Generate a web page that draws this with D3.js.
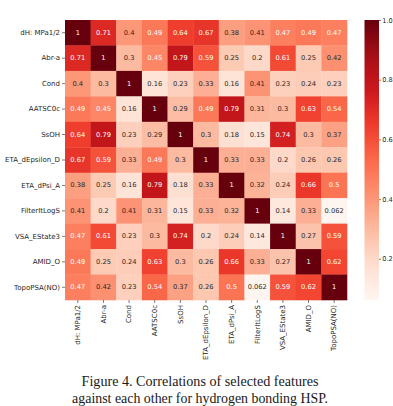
<!DOCTYPE html>
<html>
<head>
<meta charset="utf-8">
<script src="https://cdn.jsdelivr.net/npm/d3@7"></script>
<style>
  html, body { margin: 0; padding: 0; background: #fff; }
  svg { display: block; }
</style>
</head>
<body>
<svg id="chart" width="393" height="406"></svg>
<script>
// ---- data ----
const features = ["dH: MPa1/2", "Abr-a", "Cond", "AATSC0c", "SsOH", "ETA_dEpsilon_D",
                  "ETA_dPsi_A", "FilterItLogS", "VSA_EState3", "AMID_O", "TopoPSA(NO)"];
const row_dH      = [1, 0.71, 0.4, 0.49, 0.64, 0.67, 0.38, 0.41, 0.47, 0.49, 0.47];
const row_Abr     = [0.71, 1, 0.3, 0.45, 0.79, 0.59, 0.25, 0.2, 0.61, 0.25, 0.42];
const row_Cond    = [0.4, 0.3, 1, 0.16, 0.23, 0.33, 0.16, 0.41, 0.23, 0.24, 0.23];
const row_AATSC   = [0.49, 0.45, 0.16, 1, 0.29, 0.49, 0.79, 0.31, 0.3, 0.63, 0.54];
const row_SsOH    = [0.64, 0.79, 0.23, 0.29, 1, 0.3, 0.18, 0.15, 0.74, 0.3, 0.37];
const row_ETAdE   = [0.67, 0.59, 0.33, 0.49, 0.3, 1, 0.33, 0.33, 0.2, 0.26, 0.26];
const row_ETAdPsi = [0.38, 0.25, 0.16, 0.79, 0.18, 0.33, 1, 0.32, 0.24, 0.66, 0.5];
const row_Filter  = [0.41, 0.2, 0.41, 0.31, 0.15, 0.33, 0.32, 1, 0.14, 0.33, 0.062];
const row_VSA     = [0.47, 0.61, 0.23, 0.3, 0.74, 0.2, 0.24, 0.14, 1, 0.27, 0.59];
const row_AMID    = [0.49, 0.25, 0.24, 0.63, 0.3, 0.26, 0.66, 0.33, 0.27, 1, 0.62];
const row_Topo    = [0.47, 0.42, 0.23, 0.54, 0.37, 0.26, 0.5, 0.062, 0.59, 0.62, 1];
const matrix = [row_dH, row_Abr, row_Cond, row_AATSC, row_SsOH, row_ETAdE,
                row_ETAdPsi, row_Filter, row_VSA, row_AMID, row_Topo];
const colorbarTicks = [0.2, 0.4, 0.6, 0.8, 1.0];
const captionLines = ["Figure 4. Correlations of selected features",
                      "against each other for hydrogen bonding HSP."];

// ---- layout ----
const svg = d3.select("#chart");
const L = 65, R = 347, T = 20, B = 300;
const font = "DejaVu Sans, sans-serif";
const textCol = "#262626";

const x = d3.scaleBand().domain(features).range([L, R]).padding(0);
const y = d3.scaleBand().domain(features).range([T, B]).padding(0);

const flat = matrix.flat();
const vmin = d3.min(flat), vmax = d3.max(flat);
const reds = ["#fff5f0", "#fee0d2", "#fcbba1", "#fc9272", "#fb6a4a", "#ef3b2c", "#cb181d", "#a50f15", "#67000d"];
const norm = d3.scaleLinear().domain([vmin, vmax]).range([0, 1]).clamp(true);
const ramp = d3.scaleLinear().domain(d3.range(reds.length).map(i => i / (reds.length - 1)))
  .range(reds).interpolate(d3.interpolateRgb);
const color = v => ramp(norm(v));

function luminance(c) {
  const rgb = d3.rgb(c);
  const f = u => { u /= 255; return u <= 0.03928 ? u / 12.92 : Math.pow((u + 0.055) / 1.055, 2.4); };
  return 0.2126 * f(rgb.r) + 0.7152 * f(rgb.g) + 0.0722 * f(rgb.b);
}

const cells = [];
matrix.forEach((row, i) => row.forEach((v, j) => cells.push({ r: features[i], c: features[j], v })));

svg.append("g").selectAll("rect").data(cells).join("rect")
  .attr("x", d => x(d.c)).attr("y", d => y(d.r))
  .attr("width", x.bandwidth() + 0.3).attr("height", y.bandwidth() + 0.3)
  .attr("fill", d => color(d.v));

const fmt = v => String(+v.toPrecision(2));
svg.append("g").selectAll("text").data(cells).join("text")
  .attr("x", d => x(d.c) + x.bandwidth() / 2)
  .attr("y", d => y(d.r) + y.bandwidth() / 2)
  .attr("text-anchor", "middle").attr("dominant-baseline", "central")
  .attr("font-family", font).attr("font-size", 6.7)
  .attr("fill", d => luminance(color(d.v)) > 0.408 ? textCol : "#ffffff")
  .text(d => fmt(d.v));

// axes
const yAxis = svg.append("g").attr("transform", `translate(${L},0)`)
  .call(d3.axisLeft(y).tickSize(3).tickPadding(2));
const xAxis = svg.append("g").attr("transform", `translate(0,${B})`)
  .call(d3.axisBottom(x).tickSize(3).tickPadding(2));
[yAxis, xAxis].forEach(g => {
  g.select(".domain").remove();
  g.selectAll(".tick line").attr("stroke", textCol).attr("stroke-width", 0.6);
  g.selectAll(".tick text").attr("font-family", font).attr("font-size", 7).attr("fill", textCol);
});
xAxis.selectAll(".tick text")
  .attr("transform", "rotate(-90)")
  .attr("text-anchor", "end")
  .attr("x", -5).attr("y", 0).attr("dy", "0.32em");

// colorbar
const cbX = 364.5, cbW = 14.5;
const cb = d3.scaleLinear().domain([vmin, vmax]).range([B, T]);
const defs = svg.append("defs");
const grad = defs.append("linearGradient").attr("id", "cbgrad")
  .attr("x1", 0).attr("y1", 1).attr("x2", 0).attr("y2", 0);
d3.range(0, 1.0001, 0.05).forEach(t => grad.append("stop")
  .attr("offset", t).attr("stop-color", ramp(t)));
svg.append("rect").attr("x", cbX).attr("y", T).attr("width", cbW).attr("height", B - T)
  .attr("fill", "url(#cbgrad)");
const cbAxis = svg.append("g").attr("transform", `translate(${cbX + cbW},0)`)
  .call(d3.axisRight(cb).tickValues(colorbarTicks).tickFormat(d3.format(".1f")).tickSize(2).tickPadding(1.2));
cbAxis.select(".domain").remove();
cbAxis.selectAll(".tick line").attr("stroke", textCol).attr("stroke-width", 0.6);
cbAxis.selectAll(".tick text").attr("font-family", font).attr("font-size", 6.6).attr("fill", textCol);

// caption
const cap = svg.append("g");
const capY = [386, 403];
const capW = [237, 256];
captionLines.forEach((s, i) => {
  const t = cap.append("text").attr("x", 200).attr("y", capY[i])
    .attr("text-anchor", "middle")
    .attr("font-family", "Liberation Serif, Times New Roman, serif")
    .attr("font-size", 100).attr("fill", "#1a1a1a").text(s);
  const w = t.node().getComputedTextLength();
  t.attr("font-size", 100 * capW[i] / w);
});
</script>
</body>
</html>
